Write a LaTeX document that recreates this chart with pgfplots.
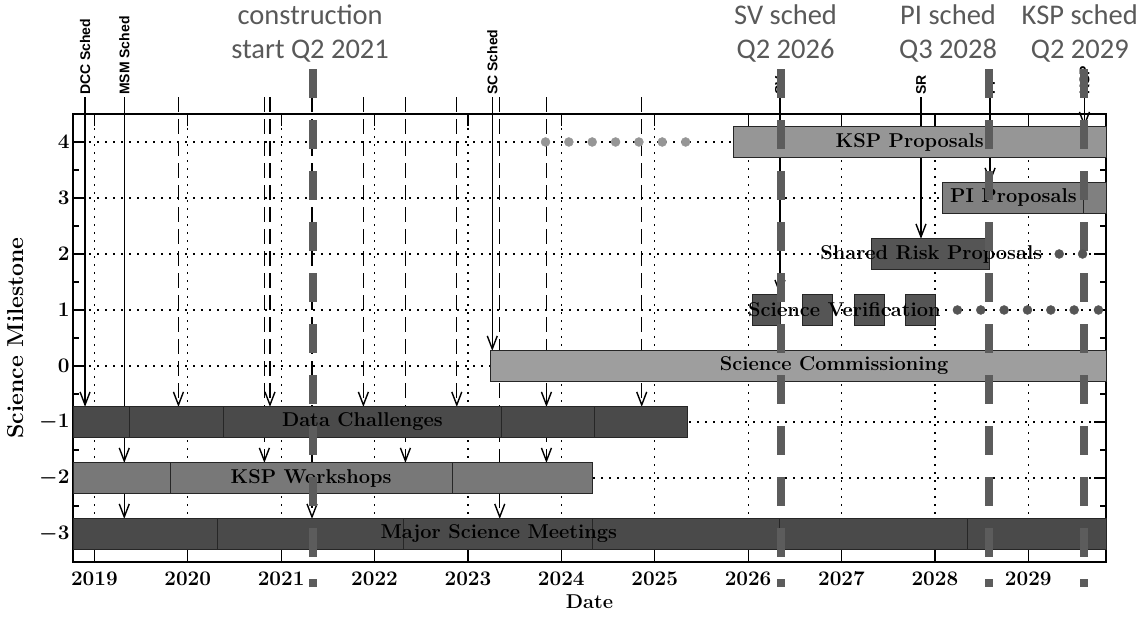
\documentclass[border=0pt]{standalone}
\usepackage{pgfplots}
\pgfplotsset{compat=1.18}
\usepackage{fontspec}
\usetikzlibrary{arrows.meta}
\newfontfamily\schedfont{Liberation Sans}
\newfontfamily\notefont{Carlito}

\definecolor{barDark}{RGB}{74,74,74}
\definecolor{barMid}{RGB}{120,120,120}
\definecolor{barPI}{RGB}{128,128,128}
\definecolor{barLight}{RGB}{158,158,158}
\definecolor{barKSP}{RGB}{150,150,150}
\definecolor{barSR}{RGB}{85,85,85}
\definecolor{rodgray}{RGB}{92,92,92}
\definecolor{notegray}{RGB}{89,89,89}

% one bar of the schedule: colour, start, end, milestone row
\newcommand{\task}[4]{%
  \pgfmathsetmacro\tlo{#4-0.27}%
  \pgfmathsetmacro\thi{#4+0.27}%
  \edef\tasktmp{\noexpand\addplot[taskbar, fill=#1] coordinates {(#2,\tlo) (#3,\tlo) (#3,\thi) (#2,\thi)} -- cycle;}%
  \tasktmp}

\tikzset{
  taskbar/.style={draw=black!85, line width=0.8pt},
  evsolid/.style={black, line width=1.4pt, -{Straight Barb[length=13pt,width=10pt,line width=1.4pt]}},
  evdash/.style={evsolid, dash pattern=on 15pt off 7pt},
  rod/.style={rodgray, line width=8pt, dash pattern=on 28.6pt off 22.4pt},
  barlabel/.style={font=\fontsize{20}{24}\selectfont\bfseries},
  schedlabel/.style={rotate=90, anchor=west, inner sep=2pt, font=\schedfont\bfseries\fontsize{14}{16}\selectfont},
  note/.style={text=notegray, align=center, font=\notefont\fontsize{28.5}{34}\selectfont},
}

\begin{document}
\begin{tikzpicture}
\useasboundingbox (0,0) rectangle (1148pt,617pt);
\begin{axis}[
  at={(73pt,55pt)}, anchor=south west,
  scale only axis, width=1033pt, height=448pt,
  xmin=2018.771, xmax=2029.831, ymin=-3.5, ymax=4.5,
  xtick={2019,...,2029}, minor x tick num=11,
  ytick={-3,...,4}, minor y tick num=1,
  tick align=inside,
  major tick length=12pt, minor tick length=6pt,
  /pgf/number format/1000 sep={},
  grid=major,
  major grid style={black, line width=1.2pt, dash pattern=on 1.8pt off 6.2pt},
  axis line style={line width=1.6pt},
  tick style={black, line width=1.2pt},
  tick label style={font=\fontsize{20}{24}\selectfont\boldmath},
  xticklabel style={yshift=-7pt},
  xlabel={Date}, ylabel={Science Milestone},
  xlabel style={font=\fontsize{20}{24}\selectfont\bfseries, yshift=-2pt},
  ylabel style={font=\fontsize{23}{26}\selectfont\bfseries, yshift=9pt},
  clip=false,
]

% scheduling lines with their arrows
\addplot[evsolid] coordinates {(2018.90,4.80) (2018.90,-0.73)};
\addplot[evsolid] coordinates {(2019.32,4.80) (2019.32,-2.73)};
\addplot[evsolid] coordinates {(2019.32,-1.27) (2019.32,-1.73)};
\addplot[evdash] coordinates {(2019.90,4.80) (2019.90,-0.73)};
\addplot[evdash] coordinates {(2020.88,4.80) (2020.88,-0.73)};
\addplot[evdash] coordinates {(2020.82,4.80) (2020.82,-1.73)};
\addplot[evdash] coordinates {(2021.33,4.80) (2021.33,-2.73)};
\addplot[evdash] coordinates {(2021.88,4.80) (2021.88,-0.73)};
\addplot[evdash] coordinates {(2022.33,4.80) (2022.33,-1.73)};
\addplot[evdash] coordinates {(2022.88,4.80) (2022.88,-0.73)};
\addplot[evsolid] coordinates {(2023.26,4.80) (2023.26,0.27)};
\addplot[evdash] coordinates {(2023.34,4.80) (2023.34,-2.73)};
\addplot[evdash] coordinates {(2023.84,4.80) (2023.84,-1.73)};
\addplot[evsolid] coordinates {(2023.84,-0.30) (2023.84,-0.73)};
\addplot[evdash] coordinates {(2024.86,4.80) (2024.86,-0.73)};
\addplot[evsolid] coordinates {(2026.34,4.80) (2026.34,1.27)};
\addplot[evsolid] coordinates {(2027.85,4.80) (2027.85,2.27)};
\addplot[evsolid] coordinates {(2028.59,4.80) (2028.59,3.27)};
\addplot[evsolid] coordinates {(2029.60,4.80) (2029.60,4.27)};

\node[schedlabel] at (axis cs:2018.90,4.80) {DCC Sched};
\node[schedlabel] at (axis cs:2019.32,4.80) {MSM Sched};
\node[schedlabel] at (axis cs:2023.26,4.80) {SC Sched};
\node[schedlabel] at (axis cs:2026.34,4.80) {SV};
\node[schedlabel] at (axis cs:2027.85,4.80) {SR};
\node[schedlabel] at (axis cs:2028.59,4.80) {PI};
\node[schedlabel] at (axis cs:2029.60,4.80) {KSP};

% bars
\task{barKSP}{2025.84}{2029.831}{4}
\task{barPI}{2028.08}{2029.59}{3}
\task{barPI}{2029.59}{2029.831}{3}
\task{barSR}{2027.32}{2028.58}{2}
\task{barSR}{2026.04}{2026.35}{1}
\task{barSR}{2026.58}{2026.90}{1}
\task{barSR}{2027.14}{2027.46}{1}
\task{barSR}{2027.68}{2028.00}{1}
\task{barLight}{2023.24}{2029.831}{0}
\task{barDark}{2018.771}{2019.38}{-1}
\task{barDark}{2019.38}{2020.38}{-1}
\task{barDark}{2020.38}{2023.36}{-1}
\task{barDark}{2023.36}{2024.35}{-1}
\task{barDark}{2024.35}{2025.35}{-1}
\task{barMid}{2018.771}{2019.81}{-2}
\task{barMid}{2019.81}{2022.83}{-2}
\task{barMid}{2022.83}{2024.33}{-2}
\task{barDark}{2018.771}{2020.32}{-3}
\task{barDark}{2020.32}{2022.31}{-3}
\task{barDark}{2022.31}{2024.33}{-3}
\task{barDark}{2024.33}{2026.33}{-3}
\task{barDark}{2026.33}{2028.35}{-3}
\task{barDark}{2028.35}{2029.831}{-3}

% pending periods
\addplot[only marks, mark=*, mark size=4.5pt, barKSP] coordinates {(2023.83,4) (2024.08,4) (2024.33,4) (2024.58,4) (2024.83,4) (2025.08,4) (2025.33,4)};
\addplot[only marks, mark=*, mark size=4.5pt, barSR] coordinates {(2028.24,1) (2028.49,1) (2028.74,1) (2028.99,1) (2029.24,1) (2029.49,1) (2029.75,1)};
\addplot[only marks, mark=*, mark size=4.5pt, barSR] coordinates {(2029.33,2) (2029.58,2)};

% bar names
\node[barlabel] at (axis cs:2027.73,4) {KSP Proposals};
\node[barlabel] at (axis cs:2028.84,3) {PI Proposals};
\node[barlabel] at (axis cs:2027.96,2) {Shared Risk Proposals};
\node[barlabel] at (axis cs:2027.03,1) {Science Verification};
\node[barlabel] at (axis cs:2026.92,0) {Science Commissioning};
\node[barlabel] at (axis cs:2021.87,-1) {Data Challenges};
\node[barlabel] at (axis cs:2021.32,-2) {KSP Workshops};
\node[barlabel] at (axis cs:2023.33,-3) {Major Science Meetings};

% key dates
\addplot[rod] coordinates {(2021.34,5.296) (2021.34,-3.946)};
\addplot[rod] coordinates {(2026.35,5.296) (2026.35,-3.946)};
\addplot[rod] coordinates {(2028.58,5.296) (2028.58,-3.946)};
\addplot[rod] coordinates {(2029.59,5.296) (2029.59,-3.946)};

\node[note] at (axis cs:2021.31,5.93) {construction\\start Q2 2021};
\node[note] at (axis cs:2026.40,5.93) {SV sched\\Q2 2026};
\node[note] at (axis cs:2028.14,5.93) {PI sched\\Q3 2028};
\node[note] at (axis cs:2029.55,5.93) {KSP sched\\Q2 2029};
\end{axis}
\end{tikzpicture}
\end{document}
